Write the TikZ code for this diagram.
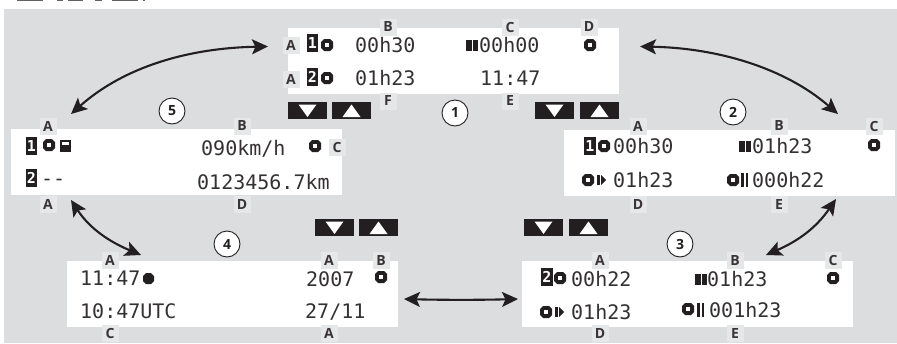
\documentclass[tikz,border=0pt]{standalone}
\usepackage{fontspec}
\usetikzlibrary{arrows.meta}
\newfontfamily\lcdfont{DejaVu Sans Mono}
\newfontfamily\labfont{Open Sans}
\definecolor{panelbg}{HTML}{DCDDDF}
\definecolor{labbg}{HTML}{E6E7E8}
\definecolor{inkc}{HTML}{231F20}
\tikzset{
  x=1pt,y=-1pt,
  screen/.style={fill=white,draw=none},
  lcd/.style={anchor=base west,inner sep=0pt,font=\lcdfont\fontsize{20}{20}\selectfont,text=inkc!92!white},
  lab/.style={fill=labbg,minimum width=17pt,minimum height=17pt,inner sep=0pt,font=\labfont\bfseries\fontsize{14}{14}\selectfont,text=inkc!90!white},
  inv/.style={fill=inkc,text=white,minimum width=11.5pt,minimum height=18pt,inner sep=0pt,font=\lcdfont\bfseries\fontsize{15}{15}\selectfont},
  numc/.style={circle,draw=inkc,line width=0.9pt,fill=white,minimum size=26pt,inner sep=0pt,font=\labfont\bfseries\fontsize{14}{14}\selectfont,text=inkc},
  twoway/.style={{Stealth[length=16pt,width=15pt,inset=3.5pt]}-{Stealth[length=16pt,width=15pt,inset=3.5pt]},line width=2.1pt,draw=inkc},
  tacho/.pic={\fill[inkc] (-3,-6) -- (3,-6) -- (6,-3) -- (6,3) -- (3,6) -- (-3,6) -- (-6,3) -- (-6,-3) -- cycle; \fill[white] (-2.2,-2.2) rectangle (2.2,2.2);},
  bar/.pic={\fill[inkc] (0,-5.5) rectangle (5.5,5.5); \fill[inkc] (7,-5.5) rectangle (12,5.5);},
  dbar/.pic={\fill[inkc] (0,-7) rectangle (2.5,7); \fill[inkc] (4.5,-7) rectangle (7,7);},
  play/.pic={\fill[inkc] (0,-5) rectangle (2.5,5); \fill[inkc] (4,-5) -- (9,0) -- (4,5) -- cycle;},
  card/.pic={\fill[inkc] (0,0) rectangle (11,12); \fill[white] (2,2) rectangle (9,5);},
  downbtn/.pic={\fill[inkc] (0,0) rectangle (39,17); \fill[white] (10.5,2.5) -- (28.5,2.5) -- (19.5,15) -- cycle;},
  upbtn/.pic={\fill[inkc] (0,0) rectangle (39,17); \fill[white] (10.5,15) -- (28.5,15) -- (19.5,2.5) -- cycle;},
}
\begin{document}
\begin{tikzpicture}
\useasboundingbox (0,0) rectangle (897,343);
\fill[panelbg] (4,9) rectangle (897,343);
% clipped remnant along the top edge
\foreach \xa/\xb in {17/43,57/63,68/83,95/102,112/138,143/145}
  {\fill[inkc!70!white] (\xa,0) rectangle (\xb,1.3);}
% screens
\fill[screen] (288,28) rectangle (619,94);
\fill[screen] (11,129) rectangle (342,195);
\fill[screen] (564,130) rectangle (895,196);
\fill[screen] (67,261) rectangle (398,327);
\fill[screen] (522,261) rectangle (853,327);
% buttons
\pic at (288,102) {downbtn}; \pic at (332,102) {upbtn};
\pic at (535,102) {downbtn}; \pic at (580,102) {upbtn};
\pic at (315,219) {downbtn}; \pic at (359,219) {upbtn};
\pic at (524,219) {downbtn}; \pic at (569,219) {upbtn};
% step numbers
\node[numc] (n1) at (455,113) {1};
\node[numc] (n2) at (733,112) {2};
\node[numc] (n3) at (680,244) {3};
\node[numc] (n4) at (227,244) {4};
\node[numc] (n5) at (172,111) {5};
% screen 1
\node[inv] (a1) at (312.5,43) {1};
\pic at (327,45) {tacho};
\node[lcd] (a2) at (355,52) {00h30};
\pic at (466,45) {bar};
\node[lcd] (a3) at (479,52) {00h00};
\pic at (590,45) {tacho};
\node[inv] (a4) at (312.5,77) {2};
\pic at (327,78) {tacho};
\node[lcd] (a5) at (355,85) {01h23};
\node[lcd] (a6) at (480,85) {11:47};
% screen 5
\node[inv] (e1) at (31.5,146) {1};
\pic at (49,145) {tacho};
\pic at (60,140) {card};
\node[lcd] (e2) at (201,155) {090km/h};
\pic at (315,146) {tacho};
\node[inv] (e3) at (31.5,178) {2};
\node[lcd] (e4) at (41,185) {--};
\node[lcd] (e5) at (197,189) {0123456.7km};
% screen 2
\node[inv] (b1) at (590,146) {1};
\pic at (604,146) {tacho};
\node[lcd] (b2) at (613,153) {00h30};
\pic at (739,146) {bar};
\node[lcd] (b3) at (752,153) {01h23};
\pic at (874,145) {tacho};
\pic at (588,180) {tacho};
\pic at (597,180) {play};
\node[lcd] (b4) at (613,187) {01h23};
\pic at (733,180) {tacho};
\pic at (741,180) {dbar};
\node[lcd] (b5) at (752,187) {000h22};
% screen 3
\node[inv] (c1) at (547,277) {2};
\pic at (560,278) {tacho};
\node[lcd] (c2) at (571,286) {00h22};
\pic at (695,279) {bar};
\node[lcd] (c3) at (707,286) {01h23};
\pic at (833,278) {tacho};
\pic at (546,312) {tacho};
\pic at (555,312) {play};
\node[lcd] (c4) at (571,319) {01h23};
\pic at (688,309) {tacho};
\pic at (697,310) {dbar};
\node[lcd] (c5) at (709,317) {001h23};
% screen 4
\node[lcd] (d1) at (80,285) {11:47};
\fill[inkc] (146,273) -- (151,273) -- (154,276) -- (154,281) -- (151,284) -- (146,284) -- (143,281) -- (143,276) -- cycle;
\node[lcd] (d2) at (306,286) {2007};
\pic at (381,277) {tacho};
\node[lcd] (d3) at (80,318) {10:47UTC};
\node[lcd] (d4) at (305,318) {27/11};
% labels
\foreach \n/\t/\px/\py in {
 l1/B/388/27, l2/C/510/27, l3/D/589/27, l4/A/291/45, l5/A/291/79, l6/F/388/101, l7/E/510/101,
 l8/A/48/126, l9/B/242/126, l10/C/337/147, l11/A/48/204, l12/D/242/204,
 l13/A/638/126, l14/B/779/126, l15/C/874/126, l16/D/638/204, l17/E/779/204,
 l18/A/110/260, l19/A/329/260, l20/B/381/260, l21/C/110/333, l22/A/329/333,
 l23/A/600/260, l24/B/735/260, l25/C/833/260, l26/D/600/333, l27/E/735/333}
 {\node[lab] (\n) at (\px,\py) {\t};}
% connector ends
\coordinate (p1a) at (268,46.5);
\coordinate (p5a) at (71,114);
\coordinate (p1b) at (640,46.5);
\coordinate (p2a) at (838,114);
\coordinate (p2b) at (836,199);
\coordinate (p3a) at (766,255);
\coordinate (p5b) at (71,200);
\coordinate (p4a) at (141,255);
\coordinate (p4b) at (404,299);
\coordinate (p3b) at (518,299);
\draw[twoway] (p1a) .. controls (190,48) and (125,66) .. (p5a);
\draw[twoway] (p1b) .. controls (718,48) and (785,68) .. (p2a);
\draw[twoway] (p2b) .. controls (816,228) and (798,241) .. (p3a);
\draw[twoway] (p5b) .. controls (90,229) and (110,242) .. (p4a);
\draw[twoway] (p4b) .. controls (442,300) and (480,300) .. (p3b);
\end{tikzpicture}
\end{document}
